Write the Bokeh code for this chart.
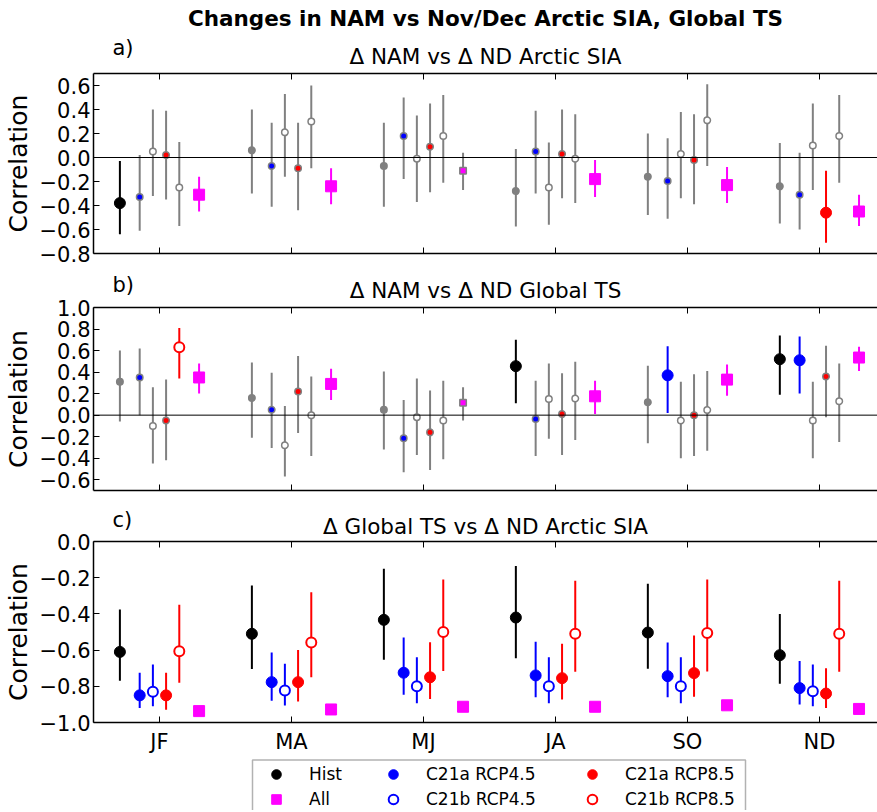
from bokeh.plotting import figure
from bokeh.models import (ColumnDataSource, FixedTicker, CustomJSTickFormatter, BoxAnnotation,
                          LinearAxis, Span, Label, Legend, LegendItem, Range1d)
from bokeh.layouts import column
from bokeh.embed import file_html
from bokeh.resources import INLINE

SEASONS = ["JF", "MA", "MJ", "JA", "SO", "ND"]
SERIES_NAMES = ["Hist", "C21a RCP4.5", "C21b RCP4.5", "C21a RCP8.5", "C21b RCP8.5", "All"]

# ---------------- panel a: d NAM vs d ND Arctic SIA ----------------
A_HIST = [-0.38, 0.06, -0.07, -0.28, -0.16, -0.24]
A_HIST_LO = [-0.64, -0.30, -0.41, -0.575, -0.48, -0.55]
A_HIST_HI = [-0.03, 0.40, 0.29, 0.07, 0.20, 0.12]
A_HIST_SIG = [1, 0, 0, 0, 0, 0]

A_C21A45 = [-0.33, -0.07, 0.18, 0.05, -0.195, -0.31]
A_C21A45_LO = [-0.61, -0.41, -0.18, -0.30, -0.51, -0.60]
A_C21A45_HI = [0.02, 0.29, 0.50, 0.39, 0.16, 0.04]
A_C21A45_SIG = [0, 0, 0, 0, 0, 0]

A_C21B45 = [0.05, 0.21, -0.01, -0.25, 0.03, 0.10]
A_C21B45_LO = [-0.32, -0.16, -0.37, -0.56, -0.34, -0.27]
A_C21B45_HI = [0.40, 0.53, 0.35, 0.125, 0.38, 0.45]
A_C21B45_SIG = [0, 0, 0, 0, 0, 0]

A_C21A85 = [0.02, -0.09, 0.09, 0.03, -0.02, -0.46]
A_C21A85_LO = [-0.35, -0.44, -0.29, -0.34, -0.39, -0.71]
A_C21A85_HI = [0.39, 0.29, 0.45, 0.40, 0.36, -0.11]
A_C21A85_SIG = [0, 0, 0, 0, 0, 1]

A_C21B85 = [-0.25, 0.30, 0.18, -0.01, 0.31, 0.18]
A_C21B85_LO = [-0.57, -0.09, -0.21, -0.38, -0.07, -0.21]
A_C21B85_HI = [0.13, 0.60, 0.52, 0.36, 0.61, 0.52]
A_C21B85_SIG = [0, 0, 0, 0, 0, 0]

A_ALL = [-0.31, -0.24, -0.11, -0.18, -0.23, -0.45]
A_ALL_LO = [-0.45, -0.39, -0.27, -0.33, -0.38, -0.57]
A_ALL_HI = [-0.16, -0.09, 0.04, -0.02, -0.08, -0.31]
A_ALL_SIG = [1, 1, 0, 1, 1, 1]

# ---------------- panel b: d NAM vs d ND Global TS ----------------
B_HIST = [0.31, 0.16, 0.05, 0.455, 0.12, 0.52]
B_HIST_LO = [-0.06, -0.21, -0.32, 0.11, -0.26, 0.19]
B_HIST_HI = [0.60, 0.49, 0.405, 0.70, 0.46, 0.74]
B_HIST_SIG = [0, 0, 0, 1, 0, 1]

B_C21A45 = [0.35, 0.05, -0.215, -0.035, 0.37, 0.51]
B_C21A45_LO = [0.0, -0.305, -0.53, -0.38, 0.02, 0.20]
B_C21A45_HI = [0.62, 0.395, 0.14, 0.32, 0.64, 0.73]
B_C21A45_SIG = [0, 0, 0, 0, 1, 1]

B_C21B45 = [-0.10, -0.28, -0.02, 0.15, -0.05, -0.05]
B_C21B45_LO = [-0.45, -0.57, -0.37, -0.22, -0.40, -0.40]
B_C21B45_HI = [0.26, 0.085, 0.34, 0.48, 0.31, 0.31]
B_C21B45_SIG = [0, 0, 0, 0, 0, 0]

B_C21A85 = [-0.05, 0.22, -0.16, 0.01, 0.0, 0.36]
B_C21A85_LO = [-0.42, -0.165, -0.51, -0.37, -0.38, -0.02]
B_C21A85_HI = [0.33, 0.55, 0.23, 0.39, 0.38, 0.645]
B_C21A85_SIG = [0, 0, 0, 0, 0, 0]

B_C21B85 = [0.63, 0.0, -0.05, 0.155, 0.047, 0.13]
B_C21B85_LO = [0.34, -0.38, -0.41, -0.23, -0.33, -0.25]
B_C21B85_HI = [0.81, 0.36, 0.32, 0.495, 0.41, 0.48]
B_C21B85_SIG = [1, 0, 0, 0, 0, 0]

B_ALL = [0.35, 0.29, 0.115, 0.175, 0.33, 0.535]
B_ALL_LO = [0.20, 0.14, -0.05, 0.01, 0.18, 0.41]
B_ALL_HI = [0.48, 0.43, 0.26, 0.32, 0.47, 0.635]
B_ALL_SIG = [1, 1, 0, 1, 1, 1]

# ---------------- panel c: d Global TS vs d ND Arctic SIA ----------------
C_HIST = [-0.61, -0.51, -0.433, -0.42, -0.503, -0.628]
C_HIST_LO = [-0.77, -0.705, -0.654, -0.645, -0.703, -0.786]
C_HIST_HI = [-0.376, -0.243, -0.15, -0.136, -0.234, -0.40]
C_HIST_SIG = [1, 1, 1, 1, 1, 1]

C_C21A45 = [-0.85, -0.777, -0.725, -0.74, -0.744, -0.81]
C_C21A45_LO = [-0.92, -0.88, -0.847, -0.86, -0.86, -0.90]
C_C21A45_HI = [-0.725, -0.613, -0.53, -0.554, -0.558, -0.66]
C_C21A45_SIG = [1, 1, 1, 1, 1, 1]

C_C21B45 = [-0.83, -0.823, -0.80, -0.80, -0.80, -0.827]
C_C21B45_LO = [-0.91, -0.906, -0.893, -0.893, -0.893, -0.91]
C_C21B45_HI = [-0.68, -0.676, -0.64, -0.64, -0.64, -0.68]
C_C21B45_SIG = [1, 1, 1, 1, 1, 1]

C_C21A85 = [-0.85, -0.777, -0.75, -0.755, -0.727, -0.84]
C_C21A85_LO = [-0.93, -0.884, -0.87, -0.873, -0.858, -0.92]
C_C21A85_HI = [-0.725, -0.60, -0.556, -0.565, -0.52, -0.70]
C_C21A85_SIG = [1, 1, 1, 1, 1, 1]

C_C21B85 = [-0.606, -0.558, -0.50, -0.51, -0.505, -0.51]
C_C21B85_LO = [-0.78, -0.75, -0.716, -0.72, -0.718, -0.72]
C_C21B85_HI = [-0.35, -0.28, -0.21, -0.217, -0.21, -0.217]
C_C21B85_SIG = [1, 1, 1, 1, 1, 1]

C_ALL = [-0.937, -0.928, -0.913, -0.913, -0.905, -0.925]
C_ALL_LO = [-0.945, -0.936, -0.921, -0.921, -0.913, -0.933]
C_ALL_HI = [-0.929, -0.920, -0.905, -0.905, -0.897, -0.917]
C_ALL_SIG = [1, 1, 1, 1, 1, 1]

PANEL_A = [
    (A_HIST, A_HIST_LO, A_HIST_HI, A_HIST_SIG),
    (A_C21A45, A_C21A45_LO, A_C21A45_HI, A_C21A45_SIG),
    (A_C21B45, A_C21B45_LO, A_C21B45_HI, A_C21B45_SIG),
    (A_C21A85, A_C21A85_LO, A_C21A85_HI, A_C21A85_SIG),
    (A_C21B85, A_C21B85_LO, A_C21B85_HI, A_C21B85_SIG),
    (A_ALL, A_ALL_LO, A_ALL_HI, A_ALL_SIG),
]
PANEL_B = [
    (B_HIST, B_HIST_LO, B_HIST_HI, B_HIST_SIG),
    (B_C21A45, B_C21A45_LO, B_C21A45_HI, B_C21A45_SIG),
    (B_C21B45, B_C21B45_LO, B_C21B45_HI, B_C21B45_SIG),
    (B_C21A85, B_C21A85_LO, B_C21A85_HI, B_C21A85_SIG),
    (B_C21B85, B_C21B85_LO, B_C21B85_HI, B_C21B85_SIG),
    (B_ALL, B_ALL_LO, B_ALL_HI, B_ALL_SIG),
]
PANEL_C = [
    (C_HIST, C_HIST_LO, C_HIST_HI, C_HIST_SIG),
    (C_C21A45, C_C21A45_LO, C_C21A45_HI, C_C21A45_SIG),
    (C_C21B45, C_C21B45_LO, C_C21B45_HI, C_C21B45_SIG),
    (C_C21A85, C_C21A85_LO, C_C21A85_HI, C_C21A85_SIG),
    (C_C21B85, C_C21B85_LO, C_C21B85_HI, C_C21B85_SIG),
    (C_ALL, C_ALL_LO, C_ALL_HI, C_ALL_SIG),
]

MAIN_TITLE = "Changes in NAM vs Nov/Dec Arctic SIA, Global TS"
SUBTITLES = ["\u0394 NAM vs \u0394 ND Arctic SIA", "\u0394 NAM vs \u0394 ND Global TS",
             "\u0394 Global TS vs \u0394 ND Arctic SIA"]
LETTERS = ["a)", "b)", "c)"]

# ---------------- styling ----------------
FONT = "DejaVu Sans"
INK = "black"
GREY = "#808080"
OFFSETS = [-0.3, -0.15, -0.05, 0.05, 0.15, 0.3]
STYLES = [
    dict(color="black", marker="circle", hollow=False, ns_fill=GREY),
    dict(color="blue", marker="circle", hollow=False, ns_fill="blue"),
    dict(color="blue", marker="circle", hollow=True, ns_fill="white"),
    dict(color="red", marker="circle", hollow=False, ns_fill="red"),
    dict(color="red", marker="circle", hollow=True, ns_fill="white"),
    dict(color="magenta", marker="square", hollow=False, ns_fill="magenta"),
]

W = 877
LEFT = 93
X_START, X_END = -0.5, 5.44

Y_FMT = "return tick.toFixed(1).replace('-', '\u2212');"


def blank_fig(height):
    f = figure(width=W, height=height, x_range=Range1d(0, 1), y_range=Range1d(0, 1),
               min_border_left=LEFT, min_border_right=0, min_border_top=0, min_border_bottom=0,
               toolbar_location=None, output_backend="svg",
               x_axis_location=None, y_axis_location=None)
    f.outline_line_color = None
    f.grid.visible = False
    return f


def header(height, letter, letter_y, subtitle, sub_y, title=None, title_y=None):
    h = blank_fig(height)
    h.add_layout(Label(x=19, y=letter_y, x_units="screen", y_units="screen", text=letter,
                       text_font=FONT, text_font_size="21px", text_baseline="middle",
                       text_align="left", text_color=INK))
    h.add_layout(Label(x=392, y=sub_y, x_units="screen", y_units="screen", text=subtitle,
                       text_font=FONT, text_font_size="21.5px", text_baseline="middle",
                       text_align="center", text_color=INK))
    if title:
        h.add_layout(Label(x=392, y=title_y, x_units="screen", y_units="screen", text=title,
                           text_font=FONT, text_font_size="21.5px", text_font_style="bold",
                           text_baseline="middle", text_align="center", text_color=INK))
    return h


def make_panel(panel, yr, yticks, height, btop, bbot, xlabels, zero_line):
    p = figure(width=W, height=height, x_range=Range1d(X_START, X_END), y_range=Range1d(*yr),
               min_border_left=LEFT, min_border_right=0, min_border_top=btop, min_border_bottom=bbot,
               toolbar_location=None, output_backend="svg",
               x_axis_location=None, y_axis_location=None)
    p.outline_line_color = None
    p.grid.visible = False
    p.border_fill_color = None
    p.background_fill_color = None

    ly = LinearAxis(ticker=FixedTicker(ticks=yticks), formatter=CustomJSTickFormatter(code=Y_FMT),
                    axis_label="Correlation")
    ly.axis_label_text_font = FONT
    ly.axis_label_text_font_style = "normal"
    ly.axis_label_text_font_size = "25px"
    ly.axis_label_text_color = INK
    ly.axis_label_standoff = 4
    ly.major_label_text_font = FONT
    ly.major_label_text_font_size = "21px"
    ly.major_label_text_color = INK
    ly.major_label_standoff = 3
    ly.major_tick_in = 6
    ly.major_tick_out = 0
    ly.minor_tick_line_color = None
    ly.axis_line_width = 1.5
    ly.axis_line_color = INK
    ly.major_tick_line_color = INK
    ly.major_tick_line_width = 1
    p.add_layout(ly, "left")

    for loc in ("below", "above"):
        ax = LinearAxis(ticker=FixedTicker(ticks=list(range(len(SEASONS)))),
                        formatter=CustomJSTickFormatter(args=dict(labels=SEASONS),
                                                        code="return labels[Math.round(tick)] || '';"))
        ax.major_tick_in = 6
        ax.major_tick_out = 0
        ax.minor_tick_line_color = None
        ax.axis_line_width = 1.5
        ax.axis_line_color = INK
        ax.major_tick_line_color = INK
        ax.major_label_text_font = FONT
        if loc == "below" and xlabels:
            ax.major_label_text_font_size = "21px"
            ax.major_label_text_color = INK
            ax.major_label_standoff = 7
        else:
            ax.major_label_text_font_size = "1px"
            ax.major_label_text_color = None
            ax.major_label_standoff = 0
        p.add_layout(ax, loc)

    if zero_line:
        p.add_layout(Span(location=0, dimension="width", line_color=INK, line_width=1))

    srcs = []
    for (vals, lo, hi, sig), st, off in zip(panel, STYLES, OFFSETS):
        n = len(vals)
        big = [bool(s) for s in sig]
        fills = [("white" if st["hollow"] else st["color"]) if b else st["ns_fill"] for b in big]
        lines = [st["color"] if b else GREY for b in big]
        bars = [st["color"] if b else GREY for b in big]
        if st["hollow"]:
            sizes = [10 if b else 6.5 for b in big]
            lws = [2 if b else 1.5 for b in big]
        else:
            sizes = [11 if b else 6.5 for b in big]
            lws = [1 if b else 1.5 for b in big]
        src = ColumnDataSource(dict(x=[i + off for i in range(n)], y=vals, lo=lo, hi=hi,
                                    fill=fills, line=lines, bar=bars, size=sizes, lw=lws))
        srcs.append((src, st))
    for src, st in srcs:
        p.segment(x0="x", y0="lo", x1="x", y1="hi", line_color="bar", line_width=2, source=src)
    for src, st in srcs:
        p.scatter(x="x", y="y", marker=st["marker"], size="size", fill_color="fill",
                  line_color="line", line_width="lw", source=src)
    return p


OVERLAP = 12

ha = header(71, LETTERS[0], 24, SUBTITLES[0], 15, title=MAIN_TITLE, title_y=53)
pa = make_panel(PANEL_A, (-0.8, 0.7), [-0.8, -0.6, -0.4, -0.2, 0.0, 0.2, 0.4, 0.6], 196, 2, 14, False, True)
hb = header(38, LETTERS[1], 21, SUBTITLES[1], 15)
pb = make_panel(PANEL_B, (-0.7, 1.0), [-0.6, -0.4, -0.2, 0.0, 0.2, 0.4, 0.6, 0.8, 1.0], 204, 14, 7, False, True)
pb.margin = (-OVERLAP, 0, 0, 0)
hc = header(43, LETTERS[2], 21, SUBTITLES[2], 14)
pc = make_panel(PANEL_C, (-1.0, 0.0), [-1.0, -0.8, -0.6, -0.4, -0.2, 0.0], 229, 13, 35, True, False)
pc.margin = (-OVERLAP, 0, 0, 0)

# ---------------- legend ----------------
LEG_H = 53
pl = blank_fig(LEG_H)
pl.add_layout(BoxAnnotation(left=159, right=652, top=LEG_H - 2.5, bottom=-20,
                            left_units="screen", right_units="screen",
                            top_units="screen", bottom_units="screen",
                            fill_color=None, fill_alpha=0, line_color=INK, line_width=1.5))

NAN = float("nan")
rends = []
for st in STYLES:
    fill = "white" if st["hollow"] else st["color"]
    r = pl.scatter(x=[NAN], y=[NAN], marker=st["marker"], size=10, fill_color=fill,
                   line_color=st["color"], line_width=2 if st["hollow"] else 1)
    rends.append(r)

columns_idx = [(0, 5), (1, 2), (3, 4)]
xlocs = [171, 288, 487]
for (i, j), xl in zip(columns_idx, xlocs):
    leg = Legend(items=[LegendItem(label=SERIES_NAMES[i], renderers=[rends[i]]),
                        LegendItem(label=SERIES_NAMES[j], renderers=[rends[j]])],
                 location=(xl, -1), orientation="vertical")
    leg.border_line_color = None
    leg.background_fill_alpha = 0
    leg.padding = 0
    leg.margin = 0
    leg.spacing = 1
    leg.glyph_width = 24
    leg.glyph_height = 24
    leg.label_height = 24
    leg.label_standoff = 21
    leg.label_text_font = FONT
    leg.label_text_font_size = "17px"
    leg.label_text_color = INK
    pl.add_layout(leg)

layout = column(ha, pa, hb, pb, hc, pc, pl)
open("out.html", "w").write(file_html(layout, INLINE))
